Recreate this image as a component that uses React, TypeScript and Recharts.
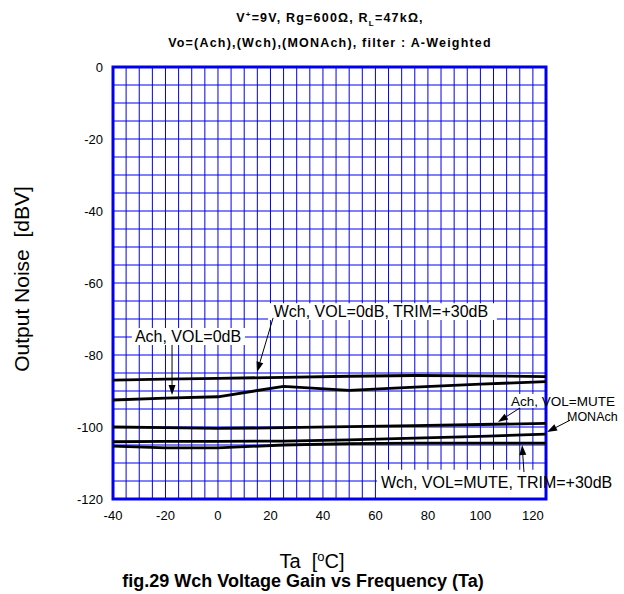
import React from "react";
import {
  LineChart,
  Line,
  XAxis,
  YAxis,
  CartesianGrid,
  ReferenceArea,
  ReferenceLine,
  ReferenceDot,
} from "recharts";

// ---- data ----
const TEMPS = [-40, -20, 0, 25, 50, 75, 100, 125];
const WCH_0DB = [-87.0, -86.7, -86.5, -86.2, -85.9, -85.7, -85.8, -86.0];
const ACH_0DB = [-92.5, -92.0, -91.6, -88.7, -89.8, -88.9, -88.1, -87.4];
const ACH_MUTE = [-100.0, -100.2, -100.4, -100.2, -99.9, -99.6, -99.3, -99.0];
const MONACH = [-104.1, -104.0, -104.0, -103.9, -103.6, -103.1, -102.6, -102.0];
const WCH_MUTE = [-105.3, -105.8, -105.8, -105.0, -104.6, -104.5, -104.5, -104.5];

const X_LABELS = [-40, -20, 0, 20, 40, 60, 80, 100, 120];
const Y_LABELS = [0, -20, -40, -60, -80, -100, -120];
const X_MIN = -40;
const X_MAX = 125;
const Y_MIN = -120;
const Y_MAX = 0;
const GRID_STEP = 5;

const xGridTicks: number[] = [];
for (let v = X_MIN; v <= X_MAX; v += GRID_STEP) xGridTicks.push(v);
const yGridTicks: number[] = [];
for (let v = Y_MIN; v <= Y_MAX; v += GRID_STEP) yGridTicks.push(v);

const data = TEMPS.map((t, i) => ({
  t,
  wch0: WCH_0DB[i],
  ach0: ACH_0DB[i],
  achMute: ACH_MUTE[i],
  mon: MONACH[i],
  wchMute: WCH_MUTE[i],
}));

const FONT = "Arial, 'Liberation Sans', sans-serif";
const BLUE = "#0000ee";

const Arrow = (p: any) => {
  const { x1, y1, x2, y2 } = p;
  const dx = x2 - x1;
  const dy = y2 - y1;
  const len = Math.hypot(dx, dy) || 1;
  const ux = dx / len;
  const uy = dy / len;
  const hl = 10;
  const hw = 3.5;
  const bx = x2 - ux * hl;
  const by = y2 - uy * hl;
  return (
    <g>
      <line x1={x1} y1={y1} x2={bx} y2={by} stroke="#000" strokeWidth={1} />
      <polygon
        points={`${x2},${y2} ${bx - uy * hw},${by + ux * hw} ${bx + uy * hw},${by - ux * hw}`}
        fill="#000"
      />
    </g>
  );
};

const makeText = (txt: string, size: number, anchor: string) => (p: any) => (
  <text
    x={p.cx}
    y={p.cy}
    fontSize={size}
    fontFamily={FONT}
    fill="#000"
    textAnchor={anchor}
    dominantBaseline="central"
  >
    {txt}
  </text>
);

export default function App() {
  return (
    <div
      style={{
        position: "absolute",
        left: 0,
        top: 0,
        width: 624,
        height: 594,
        background: "#fff",
        fontFamily: FONT,
      }}
    >
      <div
        style={{
          position: "absolute",
          left: 0,
          width: 660,
          top: 6,
          textAlign: "center",
          fontWeight: "bold",
          fontSize: 12.5,
          letterSpacing: 1.2,
          lineHeight: "18px",
        }}
      >
        V<sup style={{ fontSize: 8 }}>+</sup>=9V, Rg=600Ω, R<sub style={{ fontSize: 8 }}>L</sub>=47kΩ,
      </div>
      <div
        style={{
          position: "absolute",
          left: 0,
          width: 660,
          top: 35,
          textAlign: "center",
          fontWeight: "bold",
          fontSize: 12.5,
          letterSpacing: 1.2,
          lineHeight: "16px",
        }}
      >
        Vo=(Ach),(Wch),(MONAch), filter : A-Weighted
      </div>
      <LineChart
        width={624}
        height={594}
        data={data}
        margin={{ top: 67, right: 78, bottom: 65, left: 0 }}
        style={{ position: "absolute", left: 0, top: 0 }}
      >
        <CartesianGrid stroke={BLUE} strokeWidth={1} />
        <XAxis
          dataKey="t"
          type="number"
          domain={[X_MIN, X_MAX]}
          ticks={xGridTicks}
          interval={0}
          allowDataOverflow
          axisLine={false}
          tickLine={false}
          tickMargin={6}
          height={30}
          tick={{ fill: "#000", fontSize: 13, fontFamily: FONT }}
          tickFormatter={(v: number) => (X_LABELS.includes(v) ? String(v) : "")}
        />
        <YAxis
          type="number"
          domain={[Y_MIN, Y_MAX]}
          ticks={yGridTicks}
          interval={0}
          allowDataOverflow
          axisLine={false}
          tickLine={false}
          tickMargin={4}
          width={113}
          tick={{ fill: "#000", fontSize: 13, fontFamily: FONT }}
          tickFormatter={(v: number) => (Y_LABELS.includes(v) ? String(v) : "")}
        />
        {/* white label boxes */}
        <ReferenceArea x1={19.1} x2={106.3} y1={-65.6} y2={-70.3} fill="#fff" fillOpacity={1} stroke="none" />
        <ReferenceArea x1={-32.8} x2={10.3} y1={-72.5} y2={-77.2} fill="#fff" fillOpacity={1} stroke="none" />
        <ReferenceArea x1={110.8} x2={125} y1={-90.8} y2={-94.7} fill="#fff" fillOpacity={1} stroke="none" />
        <ReferenceArea x1={60.6} x2={125} y1={-111.9} y2={-120} fill="#fff" fillOpacity={1} stroke="none" />

        <Line dataKey="wch0" stroke="#000" strokeWidth={2.8} dot={false} isAnimationActive={false} />
        <Line dataKey="ach0" stroke="#000" strokeWidth={2.8} dot={false} isAnimationActive={false} />
        <Line dataKey="achMute" stroke="#000" strokeWidth={2.8} dot={false} isAnimationActive={false} />
        <Line dataKey="mon" stroke="#000" strokeWidth={2.8} dot={false} isAnimationActive={false} />
        <Line dataKey="wchMute" stroke="#000" strokeWidth={2.8} dot={false} isAnimationActive={false} />

        {/* frame */}
        <ReferenceArea
          x1={X_MIN}
          x2={X_MAX}
          y1={Y_MIN}
          y2={Y_MAX}
          fill="none"
          fillOpacity={0}
          stroke={BLUE}
          strokeWidth={3}
          ifOverflow="visible"
        />

        {/* annotations */}
        <ReferenceDot x={62.1} y={-67.9} r={0} ifOverflow="visible" shape={makeText("Wch, VOL=0dB, TRIM=+30dB", 16, "middle")} />
        <ReferenceLine segment={[{ x: 21.0, y: -69.7 }, { x: 14.9, y: -84.7 }]} ifOverflow="visible" shape={Arrow} />

        <ReferenceDot x={-11.4} y={-74.9} r={0} ifOverflow="visible" shape={makeText("Ach, VOL=0dB", 16, "middle")} />
        <ReferenceLine segment={[{ x: -17.5, y: -77.2 }, { x: -17.5, y: -91.1 }]} ifOverflow="visible" shape={Arrow} />

        <ReferenceDot x={111.7} y={-92.8} r={0} ifOverflow="visible" shape={makeText("Ach, VOL=MUTE", 13.5, "start")} />
        <ReferenceLine segment={[{ x: 115.1, y: -94.7 }, { x: 106.7, y: -98.6 }]} ifOverflow="visible" shape={Arrow} />

        <ReferenceDot x={133.0} y={-97.2} r={0} ifOverflow="visible" shape={makeText("MONAch", 12.5, "start")} />
        <ReferenceLine segment={[{ x: 134.2, y: -98.1 }, { x: 125.4, y: -101.4 }]} ifOverflow="visible" shape={Arrow} />

        <ReferenceDot x={62.1} y={-115.3} r={0} ifOverflow="visible" shape={makeText("Wch, VOL=MUTE, TRIM=+30dB", 16, "start")} />
        <ReferenceLine segment={[{ x: 116.6, y: -112.5 }, { x: 115.9, y: -105.0 }]} ifOverflow="visible" shape={Arrow} />
      </LineChart>

      <div
        style={{
          position: "absolute",
          left: 22 - 150,
          top: 279 - 12,
          width: 300,
          height: 24,
          lineHeight: "24px",
          textAlign: "center",
          fontSize: 21,
          transform: "rotate(-90deg)",
          whiteSpace: "pre",
        }}
      >
        {"Output Noise  [dBV]"}
      </div>
      <div
        style={{
          position: "absolute",
          left: 312 - 100,
          top: 546,
          width: 200,
          lineHeight: "22px",
          textAlign: "center",
          fontSize: 20,
          whiteSpace: "pre",
        }}
      >
        {"Ta  ["}
        <sup style={{ fontSize: 13, verticalAlign: "7px" }}>o</sup>
        {"C]"}
      </div>
      <div
        style={{
          position: "absolute",
          left: 303 - 250,
          top: 571,
          width: 500,
          lineHeight: "20px",
          textAlign: "center",
          fontSize: 18,
          fontWeight: "bold",
        }}
      >
        fig.29 Wch Voltage Gain vs Frequency (Ta)
      </div>
    </div>
  );
}
